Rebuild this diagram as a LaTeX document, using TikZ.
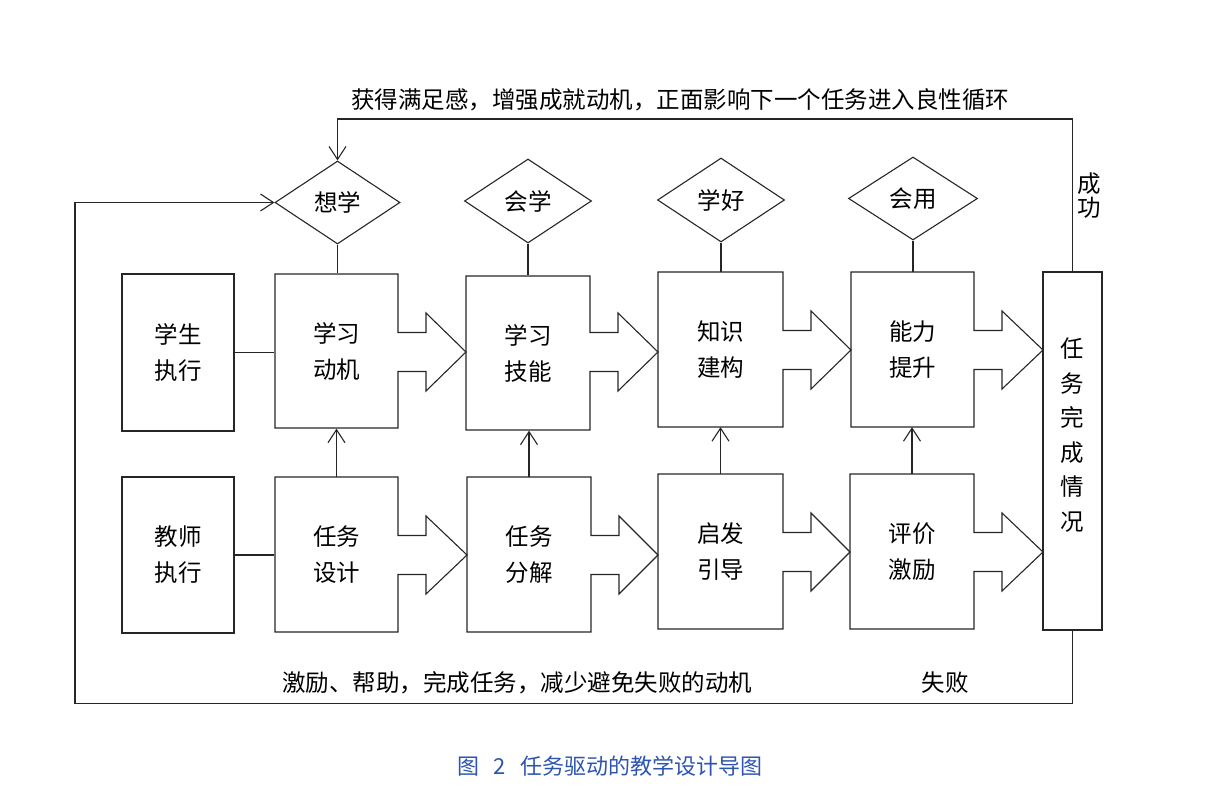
\documentclass[tikz,border=0pt]{standalone}
\usepackage{fontspec}
\setmainfont{Noto Sans CJK SC}
\usetikzlibrary{arrows.meta,shapes.geometric}
% left right top bottom midy tipx
\newcommand\blockarrow[6]{%
  \draw[ln] (#1,#3) -- (#2,#3) -- (#2,#5-19.5) -- (#2+28,#5-19.5) -- (#2+28,#5-39)
    -- (#6,#5) -- (#2+28,#5+39) -- (#2+28,#5+19.5) -- (#2,#5+19.5) -- (#2,#4) -- (#1,#4) -- cycle;}
\definecolor{capblue}{RGB}{45,85,175}
\begin{document}
\begin{tikzpicture}[x=1pt,y=-1pt,
  ln/.style={draw=black!85,line width=1.1pt,line join=miter},
  arr/.style={ln,-{Straight Barb[length=13pt,width=17pt]}},
  lbl/.style={font=\fontsize{23.5}{36}\selectfont,align=center,inner sep=0pt},
  boxnode/.style={lbl,minimum width=124pt,minimum height=155pt},
  sidebox/.style={lbl,ln,minimum width=112pt,minimum height=156pt},
  dia/.style={lbl,ln,diamond,minimum width=127pt,minimum height=84pt}]
\useasboundingbox (0,0) rectangle (1216,791);

% block arrows (outlines)
\blockarrow{275}{398}{274}{428}{352}{466}
\blockarrow{466}{590}{276}{430}{352}{658}
\blockarrow{658}{783}{272}{427}{350}{851}
\blockarrow{851}{974}{272}{427}{350}{1043}
\blockarrow{275}{398}{477}{632}{555}{467}
\blockarrow{467}{591}{477}{632}{555}{658}
\blockarrow{658}{783}{474}{629}{552}{850}
\blockarrow{850}{974}{474}{629}{552}{1043}

% box texts
\node[boxnode] (b11) at (336.5,351) {学习\\动机};
\node[boxnode] (b12) at (528,353) {学习\\技能};
\node[boxnode] (b13) at (720.5,349.5) {知识\\建构};
\node[boxnode] (b14) at (912.5,349.5) {能力\\提升};
\node[boxnode] (b21) at (336.5,554.5) {任务\\设计};
\node[boxnode] (b22) at (529,554.5) {任务\\分解};
\node[boxnode] (b23) at (720.5,551.5) {启发\\引导};
\node[boxnode] (b24) at (912,551.5) {评价\\激励};

% side boxes
\node[sidebox,minimum height=157pt] (s1) at (178,352.5) {学生\\执行};
\node[sidebox] (s2) at (178,555) {教师\\执行};

% diamonds
\node[dia,minimum width=125pt,minimum height=83pt] (d1) at (337.5,202.5) {想学};
\node[dia] (d2) at (528,201) {会学};
\node[dia] (d3) at (721,200) {学好};
\node[dia,minimum width=129pt,minimum height=83pt] (d4) at (913,198.5) {会用};

% right box
\node[ln,minimum width=59pt,minimum height=358pt] (r) at (1072.5,451) {};
\node[lbl,font=\fontsize{23.5}{34.5}\selectfont] (rt) at (1072.5,435) {任\\务\\完\\成\\情\\况};

% connectors
\draw[ln] (s1.east) -- (s1.east -| b11.west);
\draw[ln] (s2.east) -- (s2.east -| b21.west);
\foreach \u/\l in {b21/b11,b22/b12,b23/b13,b24/b14}
  \draw[arr] (\u.north) -- (\u.north |- \l.south);
\foreach \d/\b in {d1/b11,d2/b12,d3/b13,d4/b14}
  \draw[ln] (\d.south) -- (\d.south |- \b.north);

\coordinate (tr) at (1072.5,119);
\draw[arr] (r.north) -- (tr) -- (tr -| d1.north) -- (d1.north);
\coordinate (br) at (1072.5,703.5);
\coordinate (bl) at (75,703.5);
\draw[arr] (r.south) -- (br) -- (bl) -- (bl |- d1.west) -- (d1.west);

% labels
\node[lbl] (toptext) at (680,100) {获得满足感，增强成就动机，正面影响下一个任务进入良性循环};
\node[lbl,font=\fontsize{23.5}{24}\selectfont] (succ) at (1089,196) {成\\功};
\node[lbl] (bottext) at (517,683) {激励、帮助，完成任务，减少避免失败的动机};
\node[lbl] (fail) at (945,683) {失败};

% caption
\node[lbl,font=\fontsize{22}{24}\selectfont,text=capblue] (cap) at (610,766) {图\ \ \ 2\ \ \ 任务驱动的教学设计导图};
\end{tikzpicture}
\end{document}
